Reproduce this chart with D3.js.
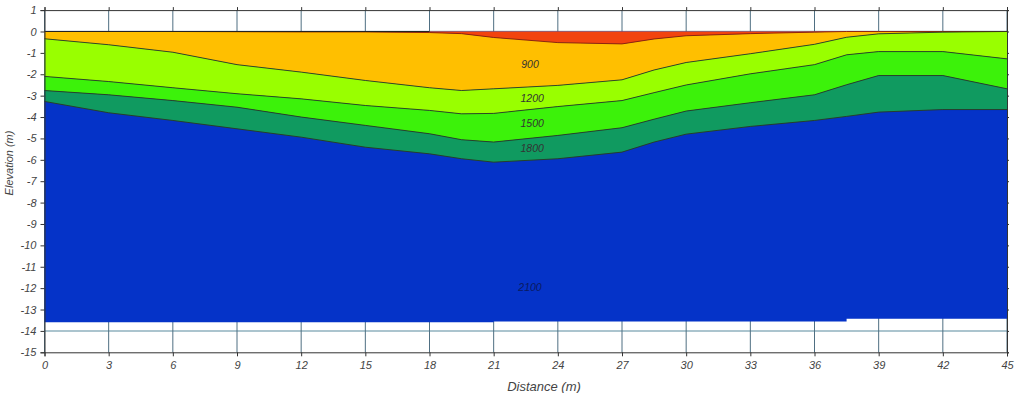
<!DOCTYPE html>
<html>
<head>
<meta charset="utf-8">
<script src="https://cdn.jsdelivr.net/npm/d3@7"></script>
<style>
	body { margin: 0; background: #fff; }
	svg text { font-family: "Liberation Sans", Arial, sans-serif; font-style: italic; }
</style>
</head>
<body>
<div id="chart"></div>
<script>
// distance nodes along the profile (m)
const distance = [0, 3, 6, 9, 12, 15, 18, 19.5, 21, 24, 27, 28.5, 30, 33, 36, 37.5, 39, 42, 45];

// elevation of each layer boundary (m)
const base600  = [0, 0, 0, -0.01, -0.02, -0.02, -0.05, -0.1, -0.28, -0.52, -0.58, -0.35, -0.2, -0.1, -0.03, 0, 0, 0, 0];
const base900  = [-0.34, -0.62, -0.97, -1.55, -1.9, -2.29, -2.63, -2.76, -2.68, -2.52, -2.26, -1.8, -1.45, -1.04, -0.6, -0.27, -0.11, -0.03, 0];
const base1200 = [-2.1, -2.34, -2.63, -2.91, -3.15, -3.46, -3.69, -3.85, -3.83, -3.51, -3.23, -2.86, -2.5, -1.98, -1.55, -1.09, -0.94, -0.94, -1.28];
const base1500 = [-2.76, -2.96, -3.23, -3.54, -4.0, -4.39, -4.78, -5.06, -5.17, -4.86, -4.5, -4.1, -3.72, -3.33, -2.96, -2.49, -2.06, -2.06, -2.68];
const base1800 = [-3.27, -3.8, -4.16, -4.55, -4.94, -5.41, -5.72, -5.95, -6.11, -5.95, -5.64, -5.17, -4.8, -4.44, -4.16, -3.97, -3.77, -3.65, -3.65];

// bottom of the model (step edges)
const bottomDist = [0, 21, 37.5, 45];
const bottomElev = [-13.6, -13.56, -13.43, -13.43];

// velocity band labels and where they sit
const bandLabels = ["900", "1200", "1500", "1800", "2100"];
const labelDist  = [22.7, 22.8, 22.8, 22.8, 22.7];
const labelElev  = [-1.54, -3.12, -4.3, -5.47, -11.95];

const xTicks = d3.range(0, 46, 3);
const yTicks = d3.range(-15, 2, 1);

const colors = ["#f2440f", "#ffbf00", "#99ff00", "#3cf20a", "#109a60", "#0533c8"];

const width = 1020, height = 393;

const x = d3.scaleLinear().domain([0, 45]).range([44.5, 1007]);
const y = d3.scaleLinear().domain([-15, 1]).range([352.3, 10.1]);

const svg = d3.select("#chart").append("svg")
	.attr("width", width)
	.attr("height", height);

// grid
svg.append("g").selectAll("line")
	.data(yTicks.filter(d => d > -15 && d < 1))
	.enter().append("line")
	.attr("x1", x(0)).attr("x2", x(45))
	.attr("y1", d => y(d)).attr("y2", d => y(d))
	.attr("stroke", "#8fb1be").attr("stroke-width", 1.5);

svg.append("g").selectAll("line")
	.data(xTicks)
	.enter().append("line")
	.attr("x1", d => x(d)).attr("x2", d => x(d))
	.attr("y1", y(1)).attr("y2", y(-15))
	.attr("stroke", "#4f6f82").attr("stroke-width", 1);

// the deepest band: filled down to the stepped model bottom
svg.append("path")
	.datum(bottomDist.map((d, i) => [d, bottomElev[i]]))
	.attr("fill", colors[5])
	.attr("d", d3.area()
		.curve(d3.curveStepAfter)
		.x(d => x(d[0]))
		.y0(d => y(d[1]))
		.y1(y(0)));

// bands between boundaries
const tops = [distance.map(() => 0), base600, base900, base1200, base1500];
const bottoms = [base600, base900, base1200, base1500, base1800];

const area = d3.area()
	.x(d => x(d.x))
	.y0(d => y(d.lo))
	.y1(d => y(d.hi));

tops.forEach((t, k) => {
	svg.append("path")
		.datum(distance.map((d, i) => ({x: d, hi: t[i], lo: bottoms[k][i]})))
		.attr("fill", colors[k])
		.attr("d", area);
});

// contour lines
const line = d3.line()
	.x(d => x(d[0]))
	.y(d => y(d[1]));

[base600, base900, base1200, base1500, base1800].forEach((b, k) => {
	svg.append("path")
		.datum(distance.map((d, i) => [d, b[i]]))
		.attr("fill", "none")
		.attr("stroke", k == 0 ? "#8a1a08" : "#2a3a20")
		.attr("stroke-width", 0.9)
		.attr("d", line);
});

svg.append("line")
	.attr("x1", x(0)).attr("x2", x(18))
	.attr("y1", y(0)).attr("y2", y(0))
	.attr("stroke", "#222").attr("stroke-width", 1.2);

// band labels
svg.append("g").selectAll("text")
	.data(bandLabels)
	.enter().append("text")
	.attr("x", (d, i) => x(labelDist[i]))
	.attr("y", (d, i) => y(labelElev[i]))
	.attr("dy", "0.35em")
	.attr("text-anchor", "middle")
	.attr("font-size", 10.5)
	.attr("fill", (d, i) => i == 4 ? "#0a1a60" : "#333")
	.text(d => d);

// axes
const yAxis = svg.append("g")
	.attr("transform", `translate(${x(0)},0)`)
	.call(d3.axisLeft(y).tickValues(yTicks).tickFormat(d => String(d)).tickSize(4).tickPadding(4));

const xAxis = svg.append("g")
	.attr("transform", `translate(0,${y(-15)})`)
	.call(d3.axisBottom(x).tickValues(xTicks).tickFormat(d => String(d)).tickSize(4).tickPadding(5));

svg.append("g")
	.attr("transform", `translate(${x(45)},0)`)
	.call(d3.axisRight(y).tickValues(yTicks).tickFormat("").tickSize(2));

svg.append("g")
	.attr("transform", `translate(0,${y(1)})`)
	.call(d3.axisTop(x).tickValues(xTicks).tickFormat("").tickSize(3));

svg.selectAll(".domain").attr("stroke", "#333");
svg.selectAll(".tick line").attr("stroke", "#333");
svg.selectAll(".tick text")
	.attr("fill", "#444")
	.attr("font-size", 11)
	.style("font-family", '"Liberation Sans", Arial, sans-serif')
	.style("font-style", "italic");

// axis titles
svg.append("text")
	.attr("x", 544)
	.attr("y", 391)
	.attr("text-anchor", "middle")
	.attr("font-size", 13)
	.attr("fill", "#444")
	.text("Distance (m)");

svg.append("text")
	.attr("transform", "translate(13,163) rotate(-90)")
	.attr("text-anchor", "middle")
	.attr("font-size", 11)
	.attr("fill", "#444")
	.text("Elevation (m)");
</script>
</body>
</html>
